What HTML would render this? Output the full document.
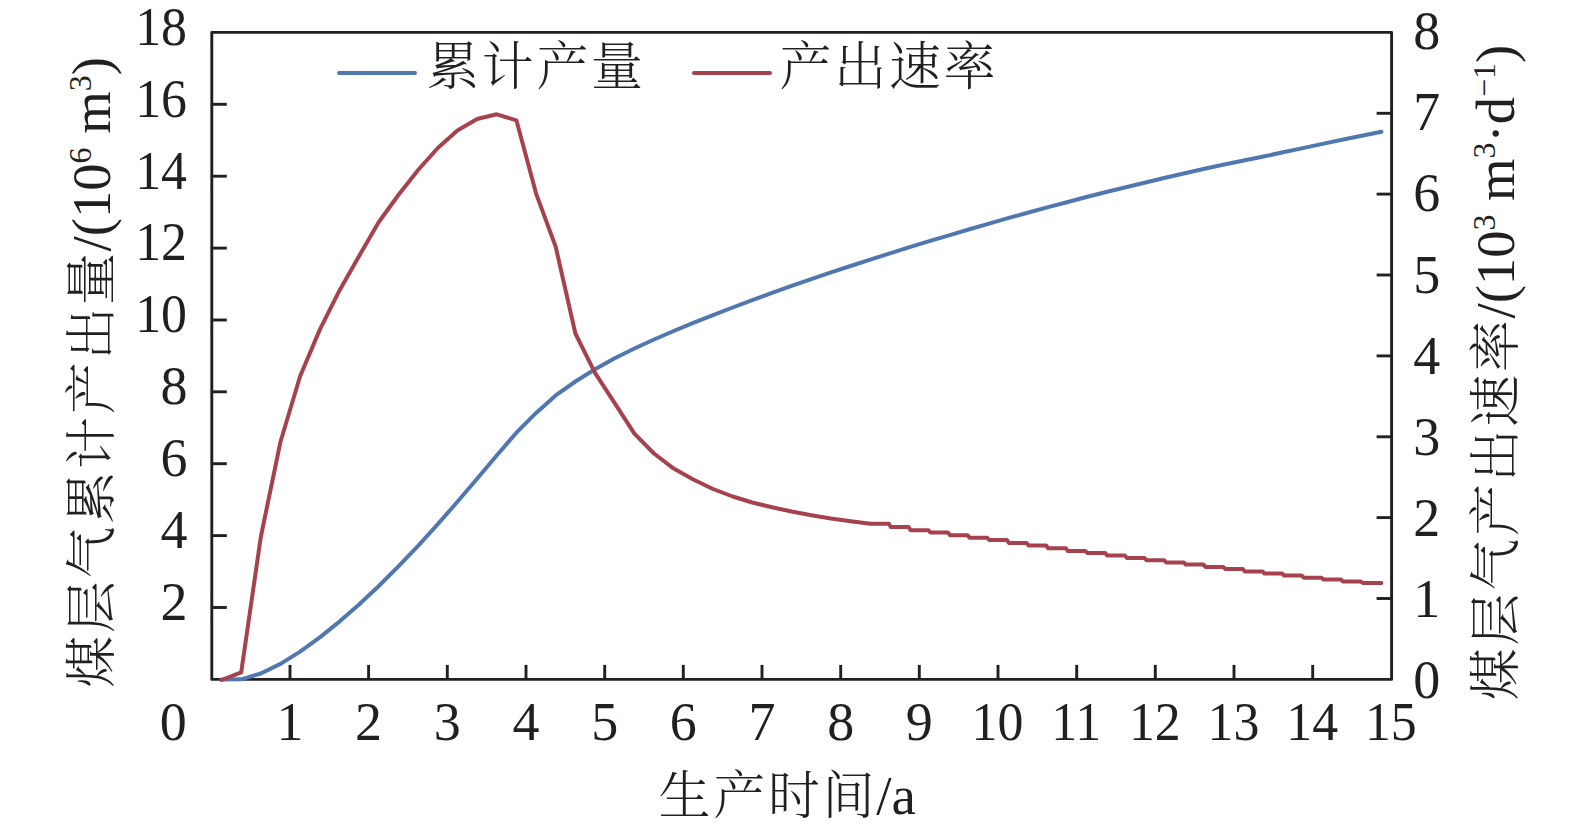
<!DOCTYPE html>
<html lang="zh"><head><meta charset="utf-8"><title>煤层气产量</title>
<style>html,body{margin:0;padding:0;background:#fff}svg{display:block}text{font-family:"Liberation Serif","Noto Serif CJK SC",serif;font-size:54px;fill:#231f20}.cj{font-family:"Noto Serif CJK SC","Liberation Serif",serif;font-weight:300;font-size:52px;letter-spacing:2.7px}</style></head><body>
<svg width="1575" height="830" viewBox="0 0 1575 830">
<rect width="1575" height="830" fill="#fff"/>
<g stroke="#231f20" fill="none" stroke-width="2.9" stroke-linejoin="round">
<polyline points="211.8,32.4 211.8,679.4 1391.6,679.4 1391.6,32.4 211.8,32.4 211.8,679.4" />
<line x1="211.8" x2="226.8" y1="607.5" y2="607.5"/>
<line x1="211.8" x2="226.8" y1="535.6" y2="535.6"/>
<line x1="211.8" x2="226.8" y1="463.7" y2="463.7"/>
<line x1="211.8" x2="226.8" y1="391.8" y2="391.8"/>
<line x1="211.8" x2="226.8" y1="320.0" y2="320.0"/>
<line x1="211.8" x2="226.8" y1="248.1" y2="248.1"/>
<line x1="211.8" x2="226.8" y1="176.2" y2="176.2"/>
<line x1="211.8" x2="226.8" y1="104.3" y2="104.3"/>
<line x1="1391.6" x2="1376.6" y1="598.5" y2="598.5"/>
<line x1="1391.6" x2="1376.6" y1="517.6" y2="517.6"/>
<line x1="1391.6" x2="1376.6" y1="436.8" y2="436.8"/>
<line x1="1391.6" x2="1376.6" y1="355.9" y2="355.9"/>
<line x1="1391.6" x2="1376.6" y1="275.0" y2="275.0"/>
<line x1="1391.6" x2="1376.6" y1="194.1" y2="194.1"/>
<line x1="1391.6" x2="1376.6" y1="113.3" y2="113.3"/>
<line x1="290.0" x2="290.0" y1="679.4" y2="664.9"/>
<line x1="368.6" x2="368.6" y1="679.4" y2="664.9"/>
<line x1="447.3" x2="447.3" y1="679.4" y2="664.9"/>
<line x1="526.0" x2="526.0" y1="679.4" y2="664.9"/>
<line x1="604.7" x2="604.7" y1="679.4" y2="664.9"/>
<line x1="683.3" x2="683.3" y1="679.4" y2="664.9"/>
<line x1="762.0" x2="762.0" y1="679.4" y2="664.9"/>
<line x1="840.7" x2="840.7" y1="679.4" y2="664.9"/>
<line x1="919.3" x2="919.3" y1="679.4" y2="664.9"/>
<line x1="998.0" x2="998.0" y1="679.4" y2="664.9"/>
<line x1="1076.7" x2="1076.7" y1="679.4" y2="664.9"/>
<line x1="1155.3" x2="1155.3" y1="679.4" y2="664.9"/>
<line x1="1234.0" x2="1234.0" y1="679.4" y2="664.9"/>
<line x1="1312.7" x2="1312.7" y1="679.4" y2="664.9"/>
</g>
<polyline points="221.5,679.6 241.2,679.3 260.8,673.5 280.5,663.9 300.1,651.6 319.8,637.4 339.5,621.6 359.1,604.5 378.8,586.0 398.4,566.4 418.1,545.8 437.8,524.2 457.4,501.8 477.1,478.8 496.7,455.5 516.4,432.7 536.1,412.9 555.7,395.4 575.4,381.5 595.0,369.3 614.7,358.3 634.4,348.5 654.0,339.5 673.7,331.0 693.3,322.9 713.0,315.1 732.7,307.5 752.3,300.1 772.0,292.9 791.6,285.9 811.3,279.1 831.0,272.4 850.6,266.0 870.3,259.6 889.9,253.3 909.6,247.2 929.3,241.2 948.9,235.3 968.6,229.5 988.2,223.8 1007.9,218.2 1027.6,212.8 1047.2,207.4 1066.9,202.2 1086.5,197.0 1106.2,192.0 1125.9,187.2 1145.5,182.5 1165.2,177.8 1184.8,173.2 1204.5,168.7 1224.2,164.5 1243.8,160.5 1263.5,156.5 1283.1,152.3 1302.8,148.1 1322.5,143.9 1342.1,139.8 1361.8,135.7 1381.4,131.7" fill="none" stroke="#5077b0" stroke-width="4" stroke-linejoin="round" stroke-linecap="round"/>
<polyline points="221.5,680.0 241.2,672.4 260.8,537.0 280.5,441.7 300.1,376.3 319.8,329.6 339.5,290.4 359.1,256.0 378.8,222.0 398.4,195.0 418.1,170.0 437.8,148.0 457.4,130.4 477.1,119.0 496.7,114.3 516.4,120.3 536.1,193.6 555.7,246.8 575.4,333.5 595.0,372.8 614.7,403.2 634.4,433.6 654.0,453.5 673.7,468.6 693.3,479.5 713.0,489.0 732.7,496.5 752.3,502.5 772.0,507.3 791.6,511.5 811.3,515.2 831.0,518.5 850.6,521.2 870.3,523.8 888.9,523.8 890.9,527.1 908.6,527.1 910.6,530.2 928.3,530.2 930.3,532.4 947.9,532.4 949.9,535.2 967.6,535.2 969.6,537.8 987.2,537.8 989.2,540.0 1006.9,540.0 1008.9,542.9 1026.6,542.9 1028.6,545.5 1046.2,545.5 1048.2,548.3 1065.9,548.3 1067.9,551.1 1085.5,551.1 1087.5,553.1 1105.2,553.1 1107.2,555.4 1124.9,555.4 1126.9,558.0 1144.5,558.0 1146.5,560.3 1164.2,560.3 1166.2,562.5 1183.8,562.5 1185.8,564.6 1203.5,564.6 1205.5,566.9 1223.2,566.9 1225.2,568.9 1242.8,568.9 1244.8,571.4 1262.5,571.4 1264.5,573.5 1282.1,573.5 1284.1,575.5 1301.8,575.5 1303.8,577.8 1321.5,577.8 1323.5,579.6 1341.1,579.6 1343.1,581.6 1360.8,581.6 1362.8,582.9 1381.4,582.9" fill="none" stroke="#a5424e" stroke-width="4" stroke-linejoin="round" stroke-linecap="round"/>
<text x="187.5" y="619.8" text-anchor="end">2</text>
<text x="187.5" y="547.9" text-anchor="end">4</text>
<text x="187.5" y="476.0" text-anchor="end">6</text>
<text x="187.5" y="404.1" text-anchor="end">8</text>
<text transform="translate(187,332.3) scale(.96,1)" text-anchor="end">10</text>
<text transform="translate(187,260.4) scale(.96,1)" text-anchor="end">12</text>
<text transform="translate(187,188.5) scale(.96,1)" text-anchor="end">14</text>
<text transform="translate(187,116.6) scale(.96,1)" text-anchor="end">16</text>
<text transform="translate(187,44.7) scale(.96,1)" text-anchor="end">18</text>
<text x="1413.3" y="698.2">0</text>
<text x="1413.3" y="617.1">1</text>
<text x="1413.3" y="535.9">2</text>
<text x="1413.3" y="454.8">3</text>
<text x="1413.3" y="373.6">4</text>
<text x="1413.3" y="292.5">5</text>
<text x="1413.3" y="211.3">6</text>
<text x="1413.3" y="130.1">7</text>
<text x="1413.3" y="49.0">8</text>
<text x="173.3" y="740" text-anchor="middle">0</text>
<text x="290.0" y="740" text-anchor="middle">1</text>
<text x="368.6" y="740" text-anchor="middle">2</text>
<text x="447.3" y="740" text-anchor="middle">3</text>
<text x="526.0" y="740" text-anchor="middle">4</text>
<text x="604.7" y="740" text-anchor="middle">5</text>
<text x="683.3" y="740" text-anchor="middle">6</text>
<text x="762.0" y="740" text-anchor="middle">7</text>
<text x="840.7" y="740" text-anchor="middle">8</text>
<text x="919.3" y="740" text-anchor="middle">9</text>
<text transform="translate(997.5,740) scale(.96,1)" text-anchor="middle">10</text>
<text transform="translate(1076.2,740) scale(.96,1)" text-anchor="middle">11</text>
<text transform="translate(1154.8,740) scale(.96,1)" text-anchor="middle">12</text>
<text transform="translate(1233.5,740) scale(.96,1)" text-anchor="middle">13</text>
<text transform="translate(1312.2,740) scale(.96,1)" text-anchor="middle">14</text>
<text transform="translate(1390.8,740) scale(.96,1)" text-anchor="middle">15</text>
<line x1="339" x2="415" y1="72.9" y2="72.9" stroke="#5077b0" stroke-width="4" stroke-linecap="round"/>
<text class="cj" x="427" y="84.5">累计产量</text>
<line x1="694" x2="770" y1="72.9" y2="72.9" stroke="#a5424e" stroke-width="4" stroke-linecap="round"/>
<text class="cj" x="779.5" y="84.5">产出速率</text>
<text x="658.5" y="814"><tspan class="cj">生产时间</tspan><tspan dx="-1" font-size="55">/a</tspan></text>
<text style="font-size:54.6px" transform="translate(109.7,687.8) rotate(-90)"><tspan class="cj">煤层气累计产出量</tspan><tspan dx="-1.2">/(10</tspan><tspan font-size="32" dy="-19">6</tspan><tspan dy="19"> m</tspan><tspan font-size="32" dy="-19">3</tspan><tspan dy="19">)</tspan></text>
<text style="font-size:54.6px" transform="translate(1513.7,700.2) rotate(-90)"><tspan class="cj">煤层气产出速率</tspan><tspan dx="-1.2">/(10</tspan><tspan font-size="32" dy="-19">3</tspan><tspan dy="19"> m</tspan><tspan font-size="32" dy="-19">3</tspan><tspan dy="19">·d</tspan><tspan font-size="32" dy="-19">−1</tspan><tspan dy="19">)</tspan></text>
</svg></body></html>
